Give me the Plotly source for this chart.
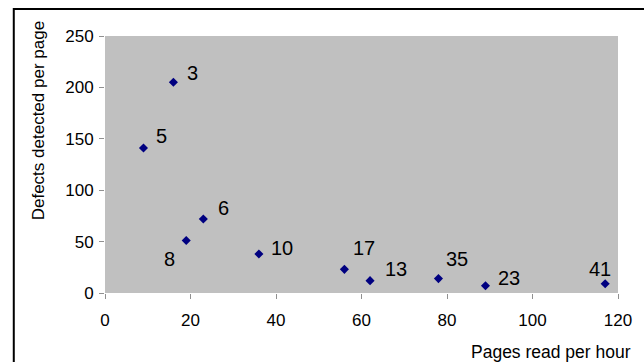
import plotly.graph_objects as go

# Inspection speed vs defect density, one point per inspection
pages_per_hour = [16, 9, 19, 23, 36, 56, 62, 78, 89, 117]
defects_per_page = [205, 141, 51, 72, 38, 23, 12, 14, 7, 9]
point_labels = ["3", "5", "8", "6", "10", "17", "13", "35", "23", "41"]

# label placement relative to each marker: (xanchor, xshift px, yshift px)
label_offsets = [
    ("left", 12, 9), ("left", 11, 12), ("right", -9, -18), ("left", 13, 11),
    ("left", 10, 6), ("left", 7, 21), ("left", 13, 12), ("left", 6, 20),
    ("left", 11, 8), ("center", -5, 15),
]

FONT = "Liberation Sans, Arial, sans-serif"
W, H = 644, 362
ML, MR, MT, MB = 105, 16, 36, 69
PW, PH = W - ML - MR, H - MT - MB

fig = go.Figure(
    go.Scatter(
        x=pages_per_hour,
        y=defects_per_page,
        mode="markers",
        marker=dict(symbol="diamond", size=7, color="#000080"),
        hoverinfo="x+y",
    )
)

annotations = []
for x, y, t, (anchor, dx, dy) in zip(pages_per_hour, defects_per_page, point_labels, label_offsets):
    annotations.append(dict(
        x=x, y=y, xref="x", yref="y", text=t, showarrow=False,
        xanchor=anchor, yanchor="middle", xshift=dx, yshift=dy,
        font=dict(family=FONT, size=20, color="#000000"),
    ))

def px_x(p):
    return (p - ML) / PW

def px_y(p):
    return (H - MB - p) / PH

# axis titles
annotations.append(dict(
    x=px_x(37), y=px_y(121), xref="paper", yref="paper",
    text="Defects detected per page", textangle=-90, showarrow=False,
    xanchor="center", yanchor="middle",
    font=dict(family=FONT, size=17, color="#000000"),
))
annotations.append(dict(
    x=px_x(643), y=px_y(352), xref="paper", yref="paper",
    text="Pages read per hour", showarrow=False,
    xanchor="right", yanchor="middle",
    font=dict(family=FONT, size=17.5, color="#000000"),
))

axis_common = dict(
    showgrid=False, zeroline=False, showline=False,
    ticks="outside", ticklen=5, tickcolor="#909090", tickwidth=1,
    tickfont=dict(family=FONT, size=17, color="#000000"),
    fixedrange=True,
)

fig.update_layout(
    width=W, height=H,
    margin=dict(l=ML, r=MR, t=MT, b=MB, pad=0),
    paper_bgcolor="#ffffff",
    plot_bgcolor="#c0c0c0",
    showlegend=False,
    xaxis=dict(range=[0, 120], tickvals=[0, 20, 40, 60, 80, 100, 120],
               ticklabelstandoff=7, **axis_common),
    yaxis=dict(range=[0, 250], tickvals=[0, 50, 100, 150, 200, 250],
               ticklabelstandoff=2, **axis_common),
    annotations=annotations,
    shapes=[dict(
        type="rect", xref="paper", yref="paper",
        x0=px_x(12), x1=px_x(700), y0=px_y(420), y1=px_y(9),
        line=dict(color="#000000", width=2), fillcolor="rgba(0,0,0,0)",
        layer="above",
    )],
)

fig.write_html("out.html")
